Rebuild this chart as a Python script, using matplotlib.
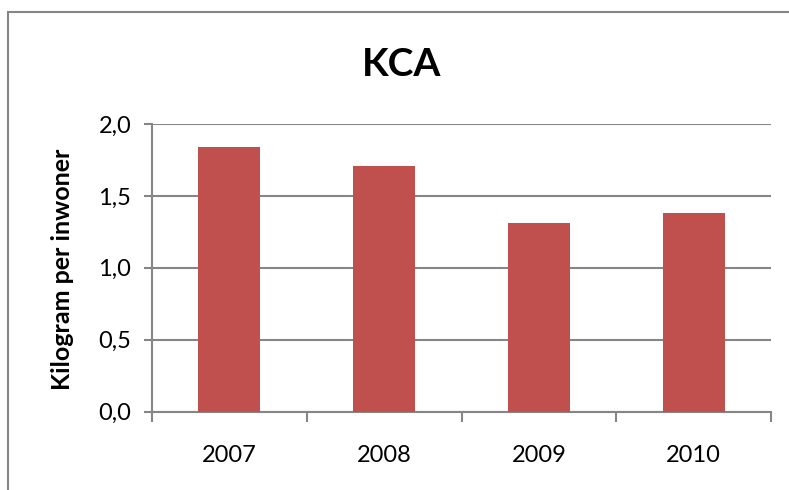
import matplotlib
matplotlib.use('Agg')
import matplotlib.pyplot as plt
from matplotlib.patches import Rectangle
from matplotlib.ticker import FuncFormatter

# data
years = ['2007', '2008', '2009', '2010']
kg_per_inwoner = [1.84, 1.71, 1.31, 1.38]
y_ticks = [0.0, 0.5, 1.0, 1.5, 2.0]

bar_color = '#C0504D'
grid_color = '#868686'
plt.rcParams['font.family'] = ['Lato', 'DejaVu Sans']

fig = plt.figure(figsize=(7.89, 4.90), dpi=100)
W, H = 789, 490

# outer chart border (only top and left visible in the crop)
fig.patches.append(Rectangle((8 / W, -0.1), 1.2, (H - 12) / H + 0.1,
                             transform=fig.transFigure, fill=False,
                             edgecolor=grid_color, linewidth=1.5))

ax = fig.add_axes([152 / W, (H - 411.5) / H, (771 - 152) / W, (411.5 - 124) / H])
x = list(range(len(years)))
ax.bar(x, kg_per_inwoner, width=0.4, color=bar_color, zorder=3)

ax.set_xlim(-0.5, len(years) - 0.5)
ax.set_ylim(0, 2.0)
ax.set_yticks(y_ticks)
ax.yaxis.set_major_formatter(FuncFormatter(lambda v, p: f"{v:.1f}".replace('.', ',')))
ax.set_xticks(x)
ax.set_xticklabels(years)
ax.set_xticks([i - 0.5 for i in range(len(years) + 1)], minor=True)

ax.grid(True, axis='y', color=grid_color, linewidth=1.5, zorder=0)
for side in ['top', 'right']:
    ax.spines[side].set_visible(False)
for side in ['left', 'bottom']:
    ax.spines[side].set_color(grid_color)
    ax.spines[side].set_linewidth(1.5)

ax.tick_params(axis='y', length=6, width=1.5, color=grid_color, pad=9, labelsize=17)
ax.tick_params(axis='x', which='major', length=0, pad=24, labelsize=17)
ax.tick_params(axis='x', which='minor', length=7, width=1.5, color=grid_color)

fig.text(402 / W, (H - 65) / H, 'KCA', fontsize=28, fontweight='bold',
         ha='center', va='center')
fig.text(62 / W, (H - 269) / H, 'Kilogram per inwoner', fontsize=18,
         fontweight='bold', rotation=90, ha='center', va='center')

fig.savefig('out.png', dpi=100)
